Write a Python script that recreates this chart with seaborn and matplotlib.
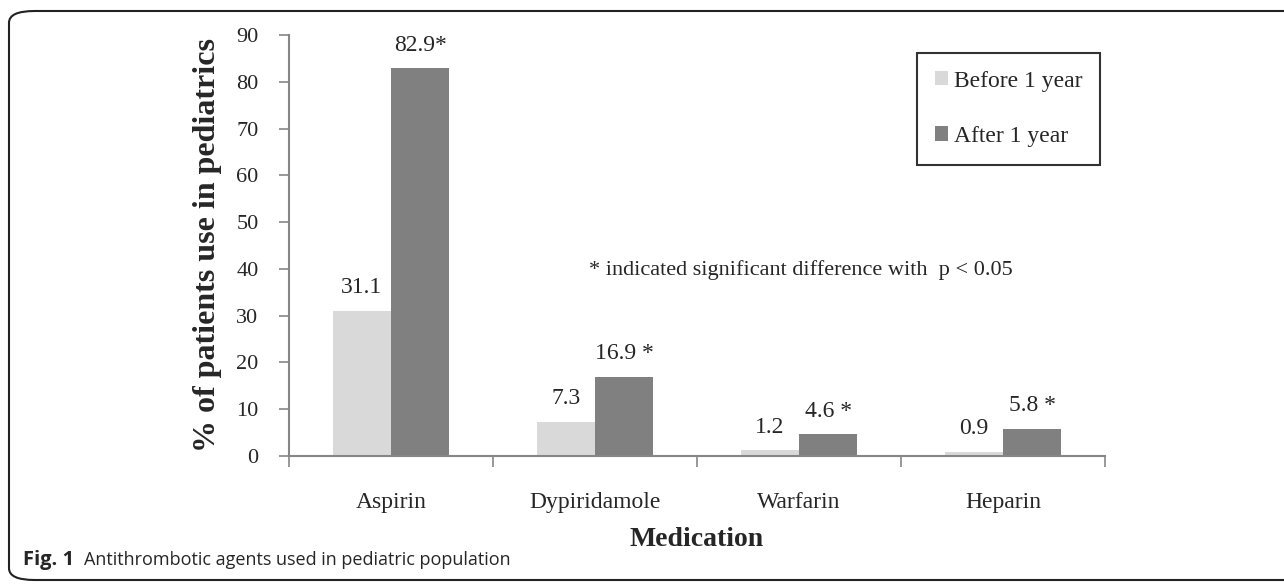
import matplotlib
matplotlib.use('Agg')
import matplotlib.pyplot as plt
from matplotlib.patches import FancyBboxPatch
from matplotlib.ticker import FixedLocator
import pandas as pd
import seaborn as sns

medications = ['Aspirin', 'Dypiridamole', 'Warfarin', 'Heparin']
before_1_year = [31.1, 7.3, 1.2, 0.9]
after_1_year = [82.9, 16.9, 4.6, 5.8]
after_marks = ['82.9*', '16.9 *', '4.6 *', '5.8 *']
periods = ['Before 1 year', 'After 1 year']

df = pd.DataFrame({
    'Medication': medications * 2,
    'value': before_1_year + after_1_year,
    'period': [periods[0]] * 4 + [periods[1]] * 4,
})

sns.set_style('white')
plt.rcParams['font.family'] = ['Liberation Serif', 'DejaVu Serif']

fig = plt.figure(figsize=(12.84, 5.86), dpi=100)
ax = fig.add_axes([289 / 1284, 130 / 586, 816 / 1284, 421 / 586])

sns.barplot(data=df, x='Medication', y='value', hue='period', order=medications,
            hue_order=periods, palette=['#d9d9d9', '#808080'], width=0.57,
            gap=0, saturation=1, edgecolor='none', ax=ax)

ax.set_xlim(-0.5, 3.5)
ax.set_ylim(0, 90)
ax.set_yticks(range(0, 91, 10))
ax.tick_params(axis='y', labelsize=16, length=7, width=1.2, color='#868686',
               direction='out', pad=15, left=True)
ax.tick_params(axis='x', which='major', labelsize=17, length=0, pad=26)
ax.xaxis.set_minor_locator(FixedLocator([-0.5, 0.5, 1.5, 2.5, 3.5]))
ax.tick_params(axis='x', which='minor', length=8, width=1.2, color='#868686',
               direction='out', bottom=True)
for side in ['top', 'right']:
    ax.spines[side].set_visible(False)
for side in ['left', 'bottom']:
    ax.spines[side].set_color('#868686')
    ax.spines[side].set_linewidth(1.5)

ax.set_xlabel('Medication', fontsize=20, fontweight='bold', labelpad=10)
ax.set_ylabel('% of patients use in pediatrics', fontsize=23, fontweight='bold')
ax.yaxis.set_label_coords(-0.082, 0.5)

# value labels
bars_before = ax.containers[0]
bars_after = ax.containers[1]
for bar, v in zip(bars_before, before_1_year):
    ax.annotate(f'{v}', (bar.get_x() + bar.get_width() / 2, bar.get_height()),
                xytext=(0, 9), textcoords='offset points', ha='center', va='bottom', fontsize=17)
for bar, lbl in zip(bars_after, after_marks):
    ax.annotate(lbl, (bar.get_x() + bar.get_width() / 2, bar.get_height()),
                xytext=(0, 9), textcoords='offset points', ha='center', va='bottom', fontsize=17)

ax.text(0.368, 0.442, '* indicated significant difference with  p < 0.05',
        transform=ax.transAxes, fontsize=16, ha='left', va='center')

leg = ax.legend(loc='upper left', bbox_to_anchor=(917 / 1284, 1 - 53 / 586),
                bbox_transform=fig.transFigure, fontsize=17, frameon=True,
                fancybox=False, edgecolor='black', handlelength=0.55, handleheight=0.55,
                handletextpad=0.25, labelspacing=1.45, borderpad=0.75, borderaxespad=0)
leg.get_frame().set_linewidth(1.5)

# caption and outer border
fig.text(23 / 1284, 1 - 560 / 586, 'Fig. 1', fontsize=14.5, fontweight='bold',
         family=['Open Sans', 'DejaVu Sans'], va='center', ha='left')
fig.text(84 / 1284, 1 - 560 / 586, 'Antithrombotic agents used in pediatric population',
         fontsize=13, family=['Open Sans', 'DejaVu Sans'], va='center', ha='left')
border = FancyBboxPatch((9 / 1284, 6 / 586), 1.2, 1 - 17 / 586,
                        boxstyle='round,pad=0,rounding_size=0.02', transform=fig.transFigure,
                        fill=False, edgecolor='#222222', linewidth=1.5, clip_on=False)
fig.patches.append(border)

fig.savefig('out.png', dpi=100)
